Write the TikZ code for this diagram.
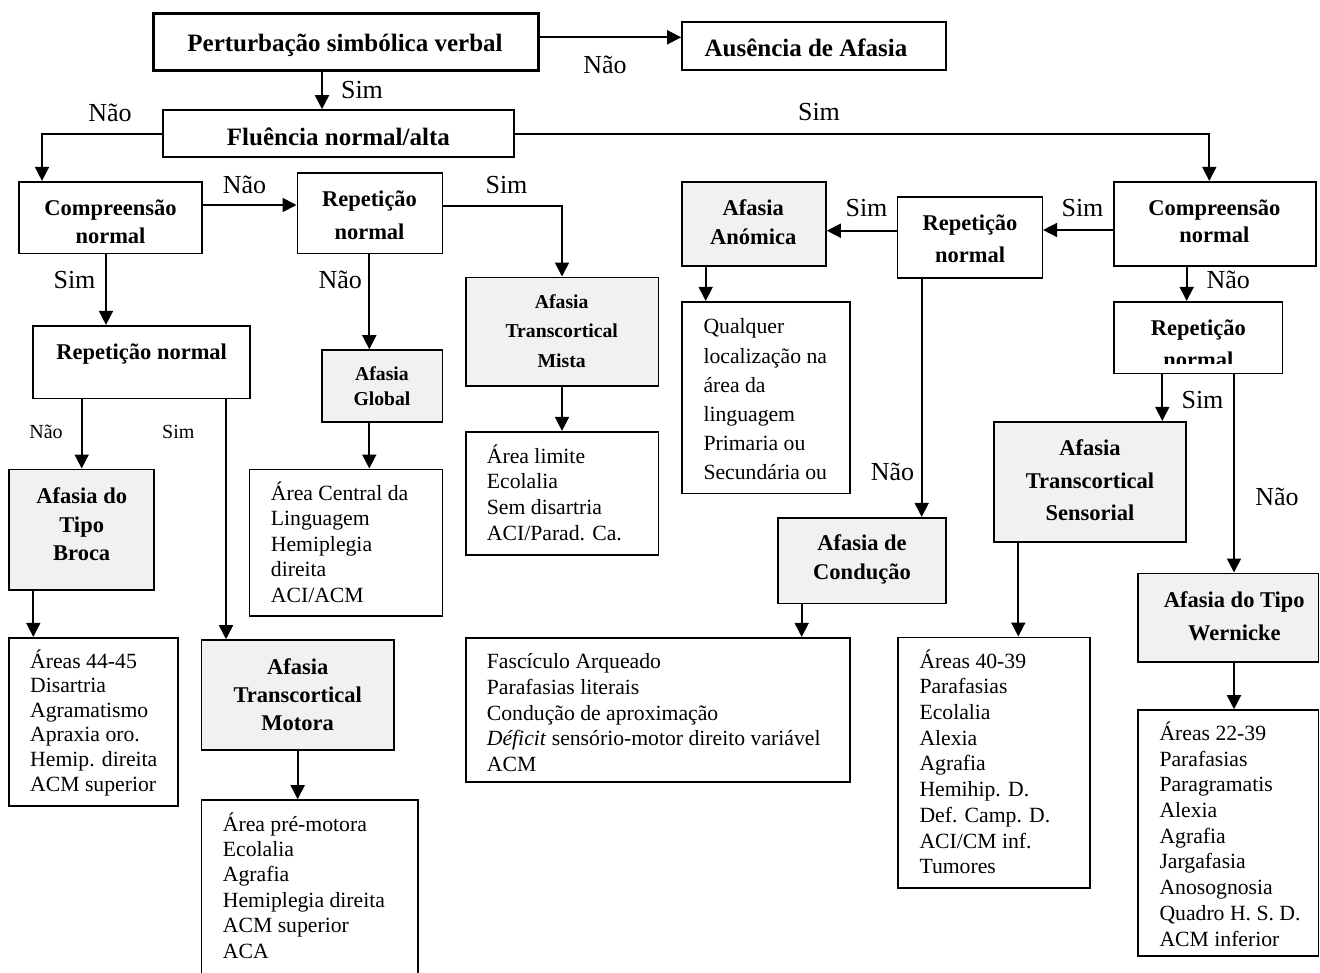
\documentclass[tikz,border=0pt]{standalone}
\usepackage{fontspec}
\setmainfont{Liberation Serif}
\usetikzlibrary{arrows.meta,fit}
\definecolor{shade}{HTML}{F1F1F1}

\begin{document}
% Multi-line text nodes carry a fixed text height/depth, so each one is
% placed by the visual centre of its last line.
\begin{tikzpicture}[x=1pt,y=-1pt,
  box/.style={draw, line width=1.6pt, inner sep=0pt},
  res/.style={box, fill=shade},
  conn/.style={line width=1.7pt},
  arr/.style={conn, -{Triangle[length=14pt,width=14pt]}},
  lab/.style={font=\fontsize{26}{30}\selectfont, inner sep=0pt, text height=18.2pt, text depth=1pt},
  labs/.style={font=\fontsize{20}{24}\selectfont, inner sep=0pt, text height=14pt, text depth=0.8pt},
  big/.style={font=\bfseries\fontsize{25}{30}\selectfont, inner sep=0pt, text height=17.5pt, text depth=1pt},
  ttl/.style={font=\bfseries\fontsize{22.5}{#1}\selectfont, align=center, inner sep=0pt, text height=15.75pt, text depth=0.9pt},
  ttls/.style={font=\bfseries\fontsize{19.7}{#1}\selectfont, align=center, inner sep=0pt, text height=13.8pt, text depth=0.8pt},
  det/.style={font=\fontsize{21.7}{#1}\selectfont, align=left, anchor=west, inner sep=0pt, text height=15.2pt, text depth=0.9pt},
]
\clip (0,0) rectangle (1320,972);
\fill[white] (0,0) rectangle (1320,972);

% ---------- top level ----------
\node[box, line width=3.5pt, fit={(153.6,13.3) (538.7,70.7)}] (pert) {};
\node[big] (pert-t) at (345,43) {Perturbação simbólica verbal};
\node[box, fit={(682,21.7) (946,70)}] (aus) {};
\node[big] (aus-t) at (806,48) {Ausência de Afasia};
\node[box, fit={(163,110) (514,156.7)}] (flu) {};
\node[big] (flu-t) at (338.4,137) {Fluência normal/alta};

% ---------- non-fluent branch ----------
\node[box, fit={(19,181.7) (201.7,253.3)}] (compL) {};
\node[ttl=28] (compL-t) at (110.5,236) {Compreensão\\normal};
\node[box, fit={(297.3,172.7) (442.3,253.3)}] (repM) {};
\node[ttl=33] (repM-t) at (369.5,232) {Repetição\\normal};
\node[box, fit={(33,325.7) (250,398.3)}] (repW) {};
\node[ttl=28] (repW-t) at (141.7,351.7) {Repetição normal};

\node[res, fit={(321.7,350) (442.3,421.7)}] (glob) {};
\node[ttls=25.3] (glob-t) at (382,399.3) {Afasia\\Global};
\node[box, fit={(249.3,469.3) (442.3,615.7)}] (globd) {};
\node[det=25.5] (globd-t) at (270.7,595.3) {Área Central da\\Linguagem\\Hemiplegia\\direita\\ACI/ACM};

\node[res, fit={(9,469.3) (154,590)}] (broca) {};
\node[ttl=28.7] (broca-t) at (81.7,553.5) {Afasia do\\Tipo\\Broca};
\node[box, fit={(9,637.7) (177.7,806)}] (brocad) {};
\node[det=24.6] (brocad-t) at (30,784) {Áreas 44-45\\Disartria\\Agramatismo\\Apraxia oro.\\Hemip. direita\\ACM superior};

\node[res, fit={(201.3,640) (394,750)}] (mot) {};
\node[ttl=28.3] (mot-t) at (297.7,723.3) {Afasia\\Transcortical\\Motora};
\node[box, fit={(201.3,800) (417.7,990)}] (motd) {};
\node[det=25.4] (motd-t) at (222.7,951) {Área pré-motora\\Ecolalia\\Agrafia\\Hemiplegia direita\\ACM superior\\ACA};

\node[res, fit={(465.7,277.3) (658.3,385.7)}] (mista) {};
\node[ttls=29.5] (mista-t) at (561.7,360.9) {Afasia\\Transcortical\\Mista};
\node[box, fit={(465.7,431.7) (658.3,555)}] (mistad) {};
\node[det=25.8] (mistad-t) at (486.7,533.4) {Área limite\\Ecolalia\\Sem disartria\\ACI/Parad. Ca.};

% ---------- fluent branch ----------
\node[res, fit={(681.7,181.7) (826,266)}] (anom) {};
\node[ttl=28.4] (anom-t) at (753.3,236.7) {Afasia\\Anómica};
\node[box, fit={(681.7,301.7) (850,493.3)}] (anomd) {};
\node[det=29.2] (anomd-t) at (703.3,472.7) {Qualquer\\localização na\\área da\\linguagem\\Primaria ou\\Secundária ou};

\node[box, fit={(897.3,196.7) (1042.3,277.7)}] (repR) {};
\node[ttl=31.7] (repR-t) at (970,254.9) {Repetição\\normal};
\node[box, fit={(1114,181.7) (1315.7,266)}] (compR) {};
\node[ttl=26.7] (compR-t) at (1214.3,235) {Compreensão\\normal};

% the second line of this box runs past its text frame and is cut off
\begin{scope}
  \clip (1114,301.7) rectangle (1282.3,363.5);
  \node[ttl=32.3] (repL-t) at (1198.3,360) {Repetição\\normal};
\end{scope}
\node[box, fit={(1114,301.7) (1282.3,373.3)}] (repL) {};

\node[res, fit={(994,421.7) (1185.7,541.7)}] (sens) {};
\node[ttl=32.5] (sens-t) at (1090,513.2) {Afasia\\Transcortical\\Sensorial};
\node[box, fit={(897.7,637.3) (1090,887.7)}] (sensd) {};
\node[det=25.7] (sensd-t) at (919.3,866.6) {Áreas 40-39\\Parafasias\\Ecolalia\\Alexia\\Agrafia\\Hemihip. D.\\Def. Camp. D.\\ACI/CM inf.\\Tumores};

\node[res, fit={(777.7,517.7) (946,603.3)}] (cond) {};
\node[ttl=28.4] (cond-t) at (862,571.7) {Afasia de\\Condução};
\node[box, fit={(465.7,637.7) (850,781.7)}] (condd) {};
\node[det=25.6] (condd-t) at (486.7,764.1) {Fascículo Arqueado\\Parafasias literais\\Condução de aproximação\\\textit{Déficit} sensório-motor direito variável\\ACM};

\node[res, fit={(1137.7,573.3) (1318.5,661.7)}] (wern) {};
\node[ttl=33.3] (wern-t) at (1234.3,633.4) {Afasia do Tipo\\Wernicke};
\node[box, fit={(1137.7,710) (1318.5,955.7)}] (wernd) {};
\node[det=25.7] (wernd-t) at (1159.3,938.9) {Áreas 22-39\\Parafasias\\Paragramatis\\Alexia\\Agrafia\\Jargafasia\\Anosognosia\\Quadro H. S. D.\\ACM inferior};

% ---------- connectors ----------
\coordinate (ya) at (0,37.3);
\draw[arr] (pert.east |- ya) -- (aus.west |- ya);
\node[lab] (l-a) at (605,65) {Não};

\coordinate (xb) at (322,0);
\draw[arr] (xb |- pert.south) -- (xb |- flu.north);
\node[lab] (l-b) at (362,90) {Sim};

\coordinate (yc) at (0,134);
\coordinate (xc) at (42,0);
\draw[arr] (flu.west |- yc) -| (xc |- compL.north);
\node[lab] (l-c) at (110,113) {Não};

\coordinate (xd) at (1209.3,0);
\draw[arr] (flu.east |- yc) -| (xd |- compR.north);
\node[lab] (l-d) at (819,112) {Sim};

\coordinate (ye) at (0,205);
\draw[arr] (compL.east |- ye) -- (repM.west |- ye);
\node[lab] (l-e) at (244.5,185) {Não};

\coordinate (yf) at (0,205.7);
\draw[arr] (repM.east |- yf) -| (mista.north);
\node[lab] (l-f) at (506.5,185) {Sim};

\coordinate (xg) at (106,0);
\draw[arr] (xg |- compL.south) -- (xg |- repW.north);
\node[lab] (l-g) at (74.5,280) {Sim};

\coordinate (xh) at (369.3,0);
\draw[arr] (xh |- repM.south) -- (xh |- glob.north);
\node[lab] (l-h) at (340.3,280) {Não};
\draw[arr] (xh |- glob.south) -- (xh |- globd.north);

\coordinate (xj) at (81.7,0);
\draw[arr] (xj |- repW.south) -- (xj |- broca.north);
\node[labs] (l-j) at (46,431.7) {Não};

\coordinate (xk) at (226,0);
\draw[arr] (xk |- repW.south) -- (xk |- mot.north);
\node[labs] (l-k) at (178.3,431.7) {Sim};

\coordinate (xl) at (33.3,0);
\draw[arr] (xl |- broca.south) -- (xl |- brocad.north);
\draw[arr] (mot.south) -- (mot.south |- motd.north);
\draw[arr] (mista.south) -- (mista.south |- mistad.north);

\coordinate (yo) at (0,230.7);
\draw[arr] (repR.west |- yo) -- (anom.east |- yo);
\node[lab] (l-o) at (866.5,208) {Sim};

\coordinate (xp) at (705.7,0);
\draw[arr] (xp |- anom.south) -- (xp |- anomd.north);

\coordinate (yq) at (0,230);
\draw[arr] (compR.west |- yq) -- (repR.east |- yq);
\node[lab] (l-q) at (1082.5,208) {Sim};

\coordinate (xr) at (1186.7,0);
\draw[arr] (xr |- compR.south) -- (xr |- repL.north);
\node[lab] (l-r) at (1228.3,280) {Não};

\coordinate (xs) at (921.7,0);
\draw[arr] (xs |- repR.south) -- (xs |- cond.north);
\node[lab] (l-s) at (892.5,471.7) {Não};

\coordinate (xt) at (1162.3,0);
\draw[arr] (xt |- repL.south) -- (xt |- sens.north);
\node[lab] (l-t) at (1202.5,400) {Sim};

\coordinate (xu) at (1234,0);
\draw[arr] (xu |- repL.south) -- (xu |- wern.north);
\node[lab] (l-u) at (1277,497) {Não};

\coordinate (xv) at (1018.3,0);
\draw[arr] (xv |- sens.south) -- (xv |- sensd.north);

\coordinate (xw) at (801.7,0);
\draw[arr] (xw |- cond.south) -- (xw |- condd.north);

\draw[arr] (xu |- wern.south) -- (xu |- wernd.north);
\end{tikzpicture}
\end{document}
